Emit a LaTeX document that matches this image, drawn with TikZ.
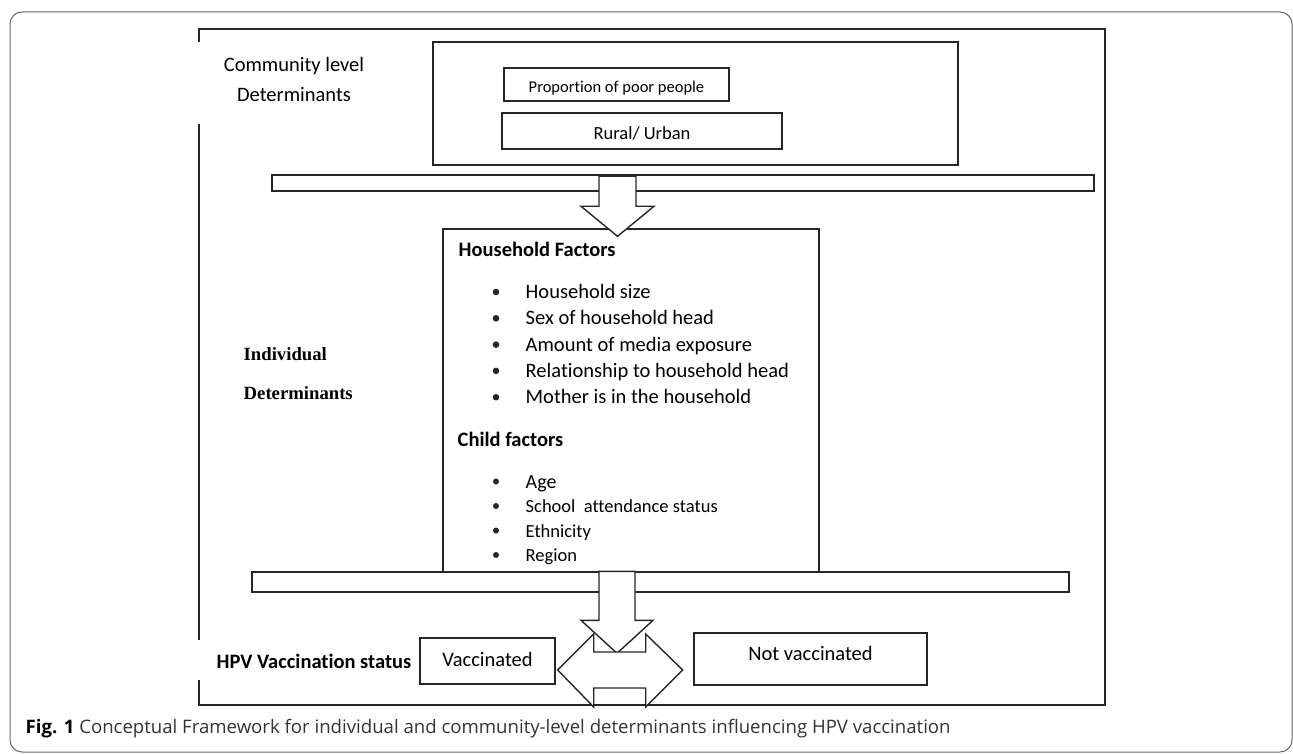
\documentclass[tikz,border=0pt]{standalone}
\usepackage{fontspec}
\setmainfont{Carlito}[Ligatures=NoCommon]
\newfontfamily\timesbf{Liberation Serif}
\newfontfamily\capfont{Open Sans}
\usetikzlibrary{calc}
\newcommand{\fsz}[1]{\fontsize{#1}{#1}\selectfont}

\begin{document}
\begin{tikzpicture}[x=1pt,y=-1pt,line width=1.4pt,
    box/.style={draw=black!85,inner sep=0pt,text depth=0pt},
    blk/.style={draw=black!85,fill=white,line join=miter},
    lbl/.style={inner sep=0pt,anchor=base west},
    item/.style={lbl,font=\fsz{20.5}}]
  \useasboundingbox (0,0) rectangle (1293,754);

  % figure panel
  \draw[black!60,line width=1pt,rounded corners=12pt] (10,12) rectangle (1292,752);
  % frame, left side open where the side labels sit
  \draw[black!85] (199,42) -- (199,29) -- (1105,29) -- (1105,705) -- (199,705) -- (199,680);
  \draw[black!85] (199,124) -- (199,640);

  % community level
  \node[inner sep=0pt,align=center,font=\fontsize{20.5}{30}\selectfont] (comlab) at (294,79.5) {Community level\\Determinants};
  \node[box,minimum width=525,minimum height=123] (combox) at (695.5,103.5) {};
  \node[box,minimum width=225,minimum height=33,font=\fsz{16.5},text height=16.4pt] (poor) at (616.5,84.5) {Proportion of poor people};
  \node[box,minimum width=280,minimum height=36,font=\fsz{18.5},text height=16.6pt] (rural) at (642,131) {Rural/ Urban};
  \node[box,fill=white,minimum width=822,minimum height=16] (bar1) at (683,183) {};

  % individual level
  \node[inner sep=0pt,align=left,anchor=west,font=\timesbf\bfseries\fontsize{18.7}{39}\selectfont] (indlab) at (243,374) {Individual\\Determinants};
  \node[box,minimum width=376,minimum height=343] (hhbox) at (631,400.5) {};
  \node[lbl,font=\bfseries\fsz{20.5}] (hhhead) at (458,256.7) {Household Factors};
  \foreach \t [count=\i from 0] in {Household size,Sex of household head,Amount of media exposure,Relationship to household head,Mother is in the household}{
    \fill[black!85] (496,292+26.3*\i) circle (3.3);
    \node[item] (hh\i) at (525,298.5+26.3*\i) {\t};
  }
  \node[lbl,font=\bfseries\fsz{20.5}] (chhead) at (457,446.7) {Child factors};
  \foreach \t/\s [count=\i from 0] in {Age/20,School\ \ attendance status/18.5,Ethnicity/18.5,Region/18.5}{
    \fill[black!85] (496,481.5+24.5*\i) circle (3);
    \node[lbl,font=\fsz{\s}] (ch\i) at (525,488+24.5*\i) {\t};
  }
  \node[box,fill=white,minimum width=817,minimum height=20] (bar2) at (660.5,582) {};

  % vaccination status
  \node[lbl,font=\bfseries\fsz{20.5}] (hpv) at (216,668) {HPV Vaccination status};
  \node[box,minimum width=135,minimum height=46,font=\fsz{20.5},text height=10pt] (vacc) at (487.5,661) {Vaccinated};
  \node[box,minimum width=233,minimum height=52,font=\fsz{20.5},text height=2pt] (novacc) at (810.5,659) {Not vaccinated};

  % block arrows
  \coordinate (a1) at ($(bar1.north)+(-65.5,2)$);
  \draw[blk] (a1) ++(-18.5,0) -- ++(0,30) -- ++(-18,0) -- ++(36.5,30) -- ++(36.5,-30) -- ++(-18,0) -- ++(0,-30) -- cycle;
  \coordinate (a2) at ($(bar2.north)+(-43.5,0)$);
  \draw[blk] (a2) ++(-18,0) -- ++(0,49) -- ++(-18,0) -- ++(36,33) -- ++(36,-33) -- ++(-18,0) -- ++(0,-49) -- cycle;
  \coordinate (a3) at ($(vacc.east)+(2,9)$);
  \draw[blk] (a3) -- ++(36,-36) -- ++(0,18) -- ++(52,0) -- ++(0,-18) -- ++(37,36) -- ++(-37,37) -- ++(0,-19) -- ++(-52,0) -- ++(0,19) -- cycle;

  % caption
  \node[lbl,font=\capfont\fsz{18.6}] (cap) at (25,733) {\textbf{Fig. 1} \textcolor{black!80}{Conceptual Framework for individual and community-level determinants influencing HPV vaccination}};
\end{tikzpicture}
\end{document}
